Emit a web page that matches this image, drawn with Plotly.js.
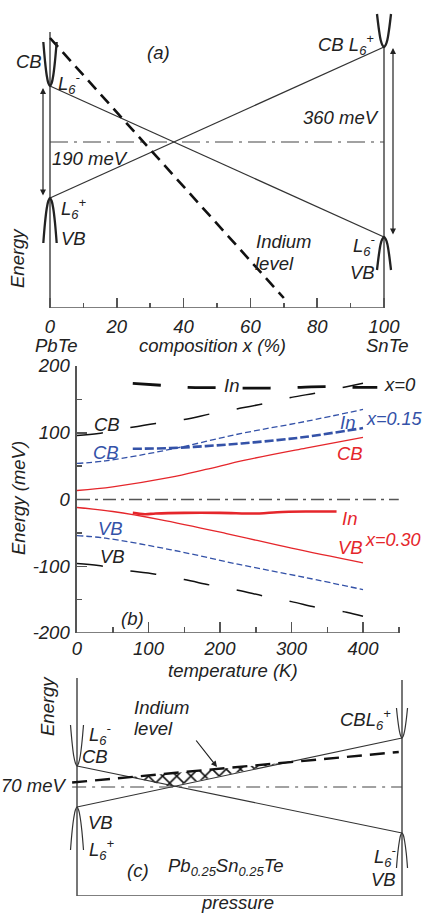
<!DOCTYPE html>
<html><head><meta charset="utf-8">
<script src="https://cdn.plot.ly/plotly-3.0.1.min.js"></script>
<style>html,body{margin:0;padding:0;background:#fff}#chart{width:426px;height:914px}</style>
</head><body><div id="chart"></div>
<script>
// ---------- Panel (a): composition x (%), schematic energy (midgap = 0) ----------
const compX = [0, 100];
const bandL6minusA = [56, -95];     // CB L6- at PbTe -> VB L6- at SnTe
const bandL6plusA = [-56, 95];      // VB L6+ at PbTe -> CB L6+ at SnTe
const midgapA = [0, 0];
const indiumCompX = [0, 70];
const indiumA = [104, -156];
const parabLeftX = [-2, -1.5, -1, -0.5, 0, 0.5, 1, 1.5, 2];
const parabLeftCB = [100, 81, 67, 59, 56, 59, 67, 81, 100];
const parabLeftVB = [-101, -81, -67, -59, -56, -59, -67, -81, -101];
const parabRightX = [97.9, 98.5, 99, 99.5, 100, 100.5, 101, 101.5, 102.1];
const parabRightCB = [128, 112, 102, 97, 95, 97, 102, 112, 128];
const parabRightVB = [-128, -112, -102, -97, -95, -97, -102, -112, -128];
const compTicks = [0, 20, 40, 60, 80, 100];
const compMinorTicks = [10, 30, 50, 70, 90];

// ---------- Panel (b): temperature (K) vs energy (meV) ----------
const tempCB0 = [0, 30, 60, 110, 150, 190, 225, 263, 300, 337, 377, 400];
const cb0 = [96, 99, 105, 114, 120, 129, 136, 144, 153, 160, 169, 174];
const vb0 = [-96, -99, -105, -112, -120, -129, -136, -145, -153, -162, -169, -175];
const tempIn0 = [78, 119, 155, 193, 230, 270, 307, 346, 384, 420];
const in0 = [174, 171, 168, 167.5, 167, 167, 168, 169, 168, 168];
const temp15 = [0, 40, 130, 230, 320, 400];
const cb15 = [54, 58, 75, 99, 117, 135];
const vb15 = [-54, -58, -75, -98, -117, -135];
const tempIn15 = [78, 130, 180, 230, 280, 321, 400];
const in15 = [76, 77, 80, 84, 89, 94, 107];
const tempCB30 = [0, 50, 130, 180, 235, 320, 400];
const cb30 = [13.5, 19, 33, 45, 59, 77, 93];
const tempVB30 = [0, 50, 116, 209, 300, 400];
const vb30 = [-12, -18, -30, -51, -73, -95];
const tempIn30 = [78, 95, 110, 150, 200, 255, 280, 320, 363];
const in30 = [-20, -22, -21, -20, -20, -21, -19, -18, -18];
const zeroT = [0, 450];
const zeroE = [0, 0];
const tempTicks = [0, 100, 200, 300, 400];
const tempMinorTicks = [50, 150, 250, 350, 450];
const energyTicks = [-200, -100, 0, 100, 200];
const energyMinorTicks = [-150, -50, 50, 150];

// ---------- Panel (c): pressure (arb.), schematic energy ----------
const pressX = [0, 100];
const bandL6minusC = [21, -46];
const bandL6plusC = [-20, 49];
const midgapPX = [-1.5, 100];
const midgapC = [0, 0];
const indiumPX = [-1.5, 99];
const indiumC = [4.5, 35];
const hatchP = [16.5, 28.6, 63];
const hatchCBedge = [10, 0.5, 24];
const hatchIndium = [10, 13.6, 24];
const parabCLeftX = [-2, -1.5, -1, -0.5, 0, 0.5, 1, 1.5, 2];
const parabCLeftCB = [62, 44, 31, 24, 21, 24, 31, 44, 62];
const parabCLeftVB = [-63, -44, -31, -23, -20, -23, -31, -44, -63];
const parabCRightX = [98.3, 98.7, 99.2, 99.6, 100, 100.4, 100.8, 101.3, 101.7];
const parabCRightCB = [79, 67, 56, 51, 49, 51, 56, 67, 79];
const parabCRightVB = [-81, -66, -54, -48, -46, -48, -54, -66, -81];

const W = 426, H = 914;
const FONT = 'Liberation Sans, Arial, sans-serif';
const FS = 18.5;
const RED = '#e5262b', BLUE = '#3452a8', BLK = '#111', FRAME = '#555';

function ln(x, y, ax, color, width, dash, shape, extra) {
  return Object.assign({type: 'scatter', mode: 'lines', x: x, y: y,
    xaxis: 'x' + ax, yaxis: 'y' + ax, hoverinfo: 'skip',
    line: {color: color, width: width, dash: dash || 'solid', shape: shape || 'linear'}}, extra || {});
}

const traces = [
  // (a)
  ln(compX, bandL6minusA, '', '#333', 1.3),
  ln(compX, bandL6plusA, '', '#333', 1.3),
  ln(compX, midgapA, '', '#444', 1.2, '18px,6px,3px,6px'),
  ln(indiumCompX, indiumA, '', BLK, 2.6, '12px,7px'),
  ln(parabLeftX, parabLeftCB, '', '#222', 2.3, 'solid', 'spline'),
  ln(parabLeftX, parabLeftVB, '', '#222', 2.3, 'solid', 'spline'),
  ln(parabRightX, parabRightCB, '', '#222', 2.3, 'solid', 'spline'),
  ln(parabRightX, parabRightVB, '', '#222', 2.3, 'solid', 'spline'),
  // (b)
  ln(zeroT, zeroE, '2', '#555', 1.3, '13px,5px,3px,5px'),
  ln(tempCB0, cb0, '2', BLK, 1.5, '26px,28px', 'spline'),
  ln(tempCB0, vb0, '2', BLK, 1.5, '26px,28px', 'spline'),
  ln(tempIn0, in0, '2', BLK, 2.8, '28px,27px', 'spline'),
  ln(temp15, cb15, '2', BLUE, 1.3, '6px,3px', 'spline'),
  ln(temp15, vb15, '2', BLUE, 1.3, '6px,3px', 'spline'),
  ln(tempIn15, in15, '2', BLUE, 2.6, '9px,3px', 'spline'),
  ln(tempCB30, cb30, '2', RED, 1.3, 'solid', 'spline'),
  ln(tempVB30, vb30, '2', RED, 1.3, 'solid', 'spline'),
  ln(tempIn30, in30, '2', RED, 2.6, 'solid', 'spline'),
  // (c)
  ln(hatchP, hatchCBedge, '3', 'rgba(0,0,0,0)', 0),
  ln(hatchP, hatchIndium, '3', 'rgba(0,0,0,0)', 0, 'solid', 'linear', {fill: 'tonexty',
    fillcolor: 'rgba(255,255,255,0)',
    fillpattern: {shape: 'x', size: 10, solidity: 0.3, fgcolor: '#111', bgcolor: 'rgba(255,255,255,0)'}}),
  ln(pressX, bandL6minusC, '3', '#333', 1.2),
  ln(pressX, bandL6plusC, '3', '#333', 1.2),
  ln(midgapPX, midgapC, '3', '#444', 1.1, '14px,6px,3px,6px'),
  ln(indiumPX, indiumC, '3', BLK, 2.4, '15px,8px'),
  ln(parabCLeftX, parabCLeftCB, '3', '#333', 1.2, 'solid', 'spline'),
  ln(parabCLeftX, parabCLeftVB, '3', '#333', 1.2, 'solid', 'spline'),
  ln(parabCRightX, parabCRightCB, '3', '#333', 1.2, 'solid', 'spline'),
  ln(parabCRightX, parabCRightVB, '3', '#333', 1.2, 'solid', 'spline')
];

function P(px, py) { return {x: px / W, y: 1 - py / H}; }
function txt(text, px, py, o) {
  o = o || {};
  const p = P(px, py);
  return Object.assign({xref: 'paper', yref: 'paper', x: p.x, y: p.y, text: text,
    showarrow: false, xanchor: 'center', yanchor: 'middle',
    font: {family: FONT, size: o.size || FS, style: 'italic', color: o.color || '#222'}},
    o.extra || {});
}
function arrow(hx, hy, tx, ty, both) {
  const p = P(hx, hy);
  return {xref: 'paper', yref: 'paper', x: p.x, y: p.y, ax: tx - hx, ay: ty - hy,
    text: '', showarrow: true, arrowhead: 2, arrowsize: 1, arrowwidth: 1.2, arrowcolor: '#222',
    arrowside: both ? 'end+start' : 'end', startarrowhead: 2, startarrowsize: 1};
}
const L = {extra: {xanchor: 'left'}};
const R = {extra: {xanchor: 'right'}};
const rot = {extra: {textangle: -90}};

const annotations = [
  // (a)
  txt('(a)', 158, 52),
  txt('CB', 29, 62),
  txt('L<sub>6</sub><sup>-</sup>', 56, 84, L),
  txt('190 meV', 90, 158),
  txt('L<sub>6</sub><sup>+</sup>', 59, 208, L),
  txt('VB', 73, 238),
  txt('Energy', 18, 258, rot),
  txt('Indium', 284, 241),
  txt('level', 274, 263),
  txt('CB L<sub>6</sub><sup>+</sup>', 376, 44, R),
  txt('360 meV', 341, 117),
  txt('L<sub>6</sub><sup>-</sup>', 351, 246, L),
  txt('VB', 362, 273),
  txt('PbTe', 57, 345),
  txt('composition x (%)', 212, 345),
  txt('SnTe', 387, 345),
  arrow(43, 88, 43, 197, true),
  arrow(393, 48, 393, 236, true),
  // (b)
  txt('In', 231, 385),
  txt('x=0', 382, 384, L),
  txt('CB', 107, 424),
  txt('CB', 106, 452, {color: BLUE}),
  txt('In', 347, 422, {color: BLUE}),
  txt('x=0.15', 425, 419, {color: BLUE, size: 18, extra: {xanchor: 'right'}}),
  txt('CB', 350, 453, {color: RED}),
  txt('In', 349, 518, {color: RED}),
  txt('VB', 350, 547, {color: RED}),
  txt('x=0.30', 423, 540, {color: RED, size: 18, extra: {xanchor: 'right'}}),
  txt('VB', 110, 528, {color: BLUE}),
  txt('VB', 112, 556),
  txt('(b)', 132, 618),
  txt('Energy (meV)', 18, 498, rot),
  txt('temperature (K)', 233, 670),
  // (c)
  txt('Energy', 47, 706, rot),
  txt('Indium', 162, 707),
  txt('level', 153, 728),
  txt('L<sub>6</sub><sup>-</sup>', 87, 734, L),
  txt('CB', 95, 756),
  txt('70 meV', 68, 785, R),
  txt('VB', 100, 822),
  txt('L<sub>6</sub><sup>+</sup>', 87, 849, L),
  txt('(c)', 138, 870),
  txt('Pb<sub>0.25</sub>Sn<sub>0.25</sub>Te', 226, 867),
  txt('CBL<sub>6</sub><sup>+</sup>', 393, 719, R),
  txt('L<sub>6</sub><sup>-</sup>', 372, 856, L),
  txt('VB', 383, 879),
  txt('pressure', 237, 902),
  arrow(217, 767, 195, 739, false)
];

function seg(ax, x0, y0, x1, y1) {
  return {type: 'line', xref: 'x' + ax, yref: 'y' + ax, x0: x0, y0: y0, x1: x1, y1: y1,
    line: {color: FRAME, width: 1.6}, layer: 'below'};
}
const shapes = [
  seg('', 0, -166, 0, 110), seg('', 100, -166, 100, 95), seg('', 0, -166, 100, -166),
  seg('2', 0, -200, 450, -200),
  seg('3', 0, -109, 0, 109), seg('3', 100, -109, 100, 107), seg('3', 0, -109, 100, -109)
];

const tickFont = {family: FONT, size: FS, style: 'italic', color: '#222'};
const hidden = {visible: false, showgrid: false, zeroline: false};
const layout = {
  width: W, height: H, margin: {l: 0, r: 0, t: 0, b: 0},
  paper_bgcolor: '#fff', plot_bgcolor: 'rgba(0,0,0,0)', showlegend: false,
  xaxis: {domain: [0, 1], range: [-50 / 3.34, (W - 50) / 3.34], anchor: 'y',
    showgrid: false, zeroline: false, showline: false,
    tickmode: 'array', tickvals: compTicks, ticktext: compTicks.map(String),
    ticks: 'inside', ticklen: 10, tickwidth: 1.5, tickcolor: FRAME, tickfont: tickFont, ticklabelstandoff: 5,
    minor: {tickmode: 'array', tickvals: compMinorTicks, ticks: 'inside', ticklen: 5, tickwidth: 1.5, tickcolor: FRAME, showgrid: false}},
  yaxis: Object.assign({domain: [1 - 308 / H, 1 - 10 / H], range: [-166, 132], anchor: 'x'}, hidden),
  xaxis2: {domain: [77 / W, 1], range: [0, (W - 77) / 0.715], anchor: 'y2',
    showgrid: false, zeroline: false, showline: false,
    tickmode: 'array', tickvals: tempTicks, ticktext: tempTicks.map(String),
    ticks: 'inside', ticklen: 11, tickwidth: 1.5, tickcolor: FRAME, tickfont: tickFont, ticklabelstandoff: 2,
    minor: {tickmode: 'array', tickvals: tempMinorTicks, ticks: 'inside', ticklen: 6, tickwidth: 1.5, tickcolor: FRAME, showgrid: false}},
  yaxis2: {domain: [1 - 633 / H, 1 - 366 / H], range: [-200, 200], anchor: 'x2',
    showgrid: false, zeroline: false, showline: true, linecolor: FRAME, linewidth: 1.6,
    tickmode: 'array', tickvals: energyTicks, ticktext: energyTicks.map(String),
    ticks: 'inside', ticklen: 10, tickwidth: 1.5, tickcolor: FRAME, tickfont: tickFont, ticklabelstandoff: 2,
    minor: {tickmode: 'array', tickvals: energyMinorTicks, ticks: 'inside', ticklen: 5, tickwidth: 1.5, tickcolor: FRAME, showgrid: false}},
  xaxis3: Object.assign({domain: [0, 1], range: [-77 / 3.25, (W - 77) / 3.25], anchor: 'y3'}, hidden),
  yaxis3: Object.assign({domain: [1 - 896 / H, 1 - 670 / H], range: [-109, 117], anchor: 'x3'}, hidden),
  shapes: shapes,
  annotations: annotations
};

Plotly.newPlot('chart', traces, layout, {staticPlot: true, displayModeBar: false});
</script>
</body></html>
